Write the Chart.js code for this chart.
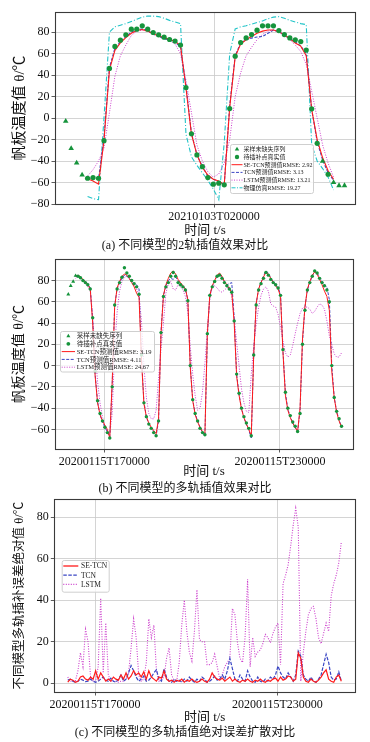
<!DOCTYPE html>
<html><head><meta charset="utf-8">
<script src="https://cdn.jsdelivr.net/npm/chart.js@4.4.0/dist/chart.umd.min.js"></script>
<style>
html,body{margin:0;padding:0;background:#fff;width:370px;height:742px;overflow:hidden;position:relative;}
.wrap{position:absolute;left:0;width:370px;}
canvas{display:block;}
.cap{position:absolute;left:0;width:370px;text-align:center;font-size:12px;font-family:'Liberation Serif','Noto Sans CJK SC',serif;color:#111;line-height:14px;white-space:nowrap;}
</style></head><body>
<div class="wrap" style="top:0;height:238px"><canvas id="ca" width="370" height="238"></canvas></div>
<div class="cap" style="top:238px">(a) 不同模型的2轨插值效果对比</div>
<div class="wrap" style="top:250px;height:229px"><canvas id="cb" width="370" height="229"></canvas></div>
<div class="cap" style="top:481px">(b) 不同模型的多轨插值效果对比</div>
<div class="wrap" style="top:490px;height:235px"><canvas id="cc" width="370" height="235"></canvas></div>
<div class="cap" style="top:725px">(c) 不同模型的多轨插值绝对误差扩散对比</div>
<script>
// ================= DATA =================
// ---- (a) 2-rail interpolation ----
const aTickPos = [27.13];
const aTickLabels = ['20210103T020000'];
const aYTicks = [-80, -60, -40, -20, 0, 20, 40, 60, 80];
const aTruth = [-2.8, -28.2, -41.8, -52.9, -56, -55.4, -56, -21, 46.3, 66.7, 72.6, 77.5, 82.8, 82.8, 85.9, 82.8, 79.7, 77.5, 75.4, 73.2, 71.7, 68, 28.4, -14.6, -34.3, -45.2, -55.4, -61.5, -60.6, -62.1, 8.9, 57.7, 70.4, 74.7, 77.8, 81.9, 85.9, 85.9, 85.9, 81.5, 77.8, 74.7, 72.9, 71.3, 63.3, 8.6, -23.5, -40.2, -52.3, -60, -62.8, -62.8];
const aSampledIdx = [0, 1, 2, 3, 47, 49, 50, 51];
const aLineStart = 4;
const aSETCN = [-56.5, -58.5, -61.5, -21, 45, 63, 70, 75, 79, 81.5, 82.5, 81, 78.5, 76.5, 75, 73, 71.5, 67.5, 28, -15, -34, -46, -53, -57, -58.5, -62, 10, 57, 69, 73, 76, 79, 81, 82, 82, 80.5, 77.5, 74, 70, 67, 58, 8, -20, -37, -49, -57];
const aTCN = [-56, -56, -57, -18, 47, 65, 71, 76, 80, 82.5, 83, 81.5, 78, 76, 74, 72.5, 71, 66, 30, -14, -34, -45, -54, -57, -59, -62, 12, 58, 70, 73, 74.5, 75.5, 76, 79, 82, 80.5, 77.5, 74, 71, 67, 60, 8, -22, -39, -51, -58];
const aLSTM = [-54, -48, -40, -28, 5, 39, 58, 68, 77, 81, 82, 81, 79, 77, 75, 72, 69, 60, 35, 5, -25, -40, -50, -55, -52, -42, -20, 20, 42, 58, 66, 73, 78, 81, 82, 80, 77, 73, 68, 62, 50, 25, 0, -25, -42, -55];
const aPhys = [-73, -75, -76, 0, 80, 85, 86.5, 88, 90, 92, 94, 95, 95, 94.5, 93, 91, 89.5, 88, -15, -36, -44, -51, -58, -66, -76, -23, 60, 83, 85, 86, 87.5, 89, 90.5, 92.5, 94, 94.5, 93, 91, 89.5, 88, 87, -25, -40, -47, -55, -67];

// ---- (b) multi-rail interpolation ----
const bTickPos = [14.75, 86.75];
const bTickLabels = ['20200115T170000', '20200115T230000'];
const bYTicks = [-60, -40, -20, 0, 20, 40, 60, 80];
const bTruth = [67, 75, 79, 84.5, 84, 82.5, 80, 78, 76, 72, 45, -5, -33, -45, -52, -58, -63, -68, -20, 57, 72, 78, 83, 92, 87, 84, 80, 77, 74, 67, 10, -35, -48, -55, -59, -63, -66, -52, 31, 65, 74, 78, 84, 87.5, 84, 78, 76, 74, 71, 61, 0, -32, -45, -52, -59, -63, -65, 30, 66, 74, 79, 84, 85, 82, 78, 75, 72, 69, 42, -8, -26, -40, -48, -54, -59, -66, 10, 57, 71, 77, 82, 87.5, 85, 81, 78, 76, 73, 66, 15, -25, -40, -47, -53, -57, -62, -45, 20, 52, 71, 78, 84, 89, 87, 82, 78, 75, 71, 60, 0, -30, -43, -50, -57];
const bSampledIdx = [0, 1, 2, 3];
const bLineStart = 3;
const bSETCN = [84, 85, 83.5, 81, 78.5, 76, 72, 40, -10, -35, -46, -52, -56, -60, -68, -15, 55, 73, 79, 84, 86, 85, 82, 78, 74, 68, 64, 5, -36, -48, -54, -58, -61, -64, -50, 30, 66, 76, 82, 87, 89, 86, 81, 78, 75, 72, 62, -2, -33, -46, -53, -58, -62, -64, 30, 66, 75, 80, 85, 87, 84, 79, 76, 72, 69, 40, -10, -28, -41, -49, -55, -60, -66, 10, 58, 72, 78, 83, 88, 86, 82, 78, 75, 72, 65, 12, -28, -42, -49, -54, -58, -62, -40, 25, 55, 72, 79, 85, 88, 86, 81, 76, 70, 65, 52, -5, -30, -44, -52, -58];
const bTCN = [84, 84.5, 83, 81, 79, 77, 73, 43, -8, -34, -46, -53, -58, -62, -67, -18, 56, 72, 78, 82, 85, 84, 82, 79, 77, 76, 72, 8, -34, -48, -55, -59, -62, -66, -52, 32, 66, 75, 80, 82, 81, 83, 80, 77, 75, 72, 62, 0, -32, -45, -52, -58, -63, -66, 28, 66, 74, 80, 84, 86, 83, 79, 76, 77, 78, 45, -8, -27, -40, -49, -55, -61, -68, 10, 58, 72, 78, 84, 89, 87, 82, 79, 76, 73, 67, 14, -26, -41, -48, -54, -58, -62, -42, 22, 55, 71, 78, 84, 89, 87, 83, 79, 76, 74, 62, 0, -30, -43, -51, -58];
const bLSTM = [82, 84, 83, 80, 77, 74, 70, 45, 15, -15, -35, -48, -57, -63, -64, -45, 15, 50, 70, 79, 83, 84, 82, 78, 75, 72, 66, 42, 0, -30, -45, -50, -50, -42, -12, 15, 40, 68, 77, 79, 72, 71, 76, 74, 71, 65, 50, 18, -8, -28, -42, -40, -25, 2, 35, 62, 74, 75, 73, 70, 69, 71, 73, 74, 65, 45, 22, 0, -22, -35, -43, -44, -8, 18, 38, 55, 66, 72, 74, 70, 58, 56, 55, 48, 36, 23, 12, 8, 10, 19, 30, 40, 49, 54, 55, 55, 53, 49, 51, 55, 58, 57, 53, 42, 28, 20, 11, 8, 8, 12];

// ---- (c) absolute error ----
const cTickPos = [14.75, 86.75];
const cTickLabels = ['20200115T170000', '20200115T230000'];
const cYTicks = [0, 20, 40, 60, 80];
const cStart = 4;
const cSETCN = [0.5, 2, 1.5, 0.5, 1, 3, 3.5, 2, 1.5, 3, 2, 6, 2, 5, 3, 1, 2, 1, 3, 2, 1.5, 4, 2, 5, 2, 3.5, 6, 4, 5, 3, 5.5, 2, 6, 3, 2, 1, 3, 2.5, 6, 2, 1, 1.5, 0.5, 1.5, 1, 2, 0.5, 1.5, 1, 2, 1, 0.5, 1, 2, 1, 0.5, 2, 5, 3, 2, 1.5, 2.5, 1, 2, 3, 1, 2, 1, 0.5, 1.5, 1, 2, 1, 0.5, 1.5, 1, 2, 1, 0.5, 1.5, 1, 2, 2.5, 1, 3, 1.5, 2, 3.5, 3, 1, 2, 14.7, 12, 3, 1, 0.5, 2, 1, 0.5, 1.5, 3, 5, 6.5, 2, 1, 0.5, 3, 4, 1];
const cTCN = [1.5, 2, 1, 0.5, 1, 2, 1.5, 0.8, 1, 2, 1, 0.5, 1, 2, 3, 1.5, 1, 2.5, 1, 0.5, 2, 4, 1, 2, 5, 8.5, 6, 3, 1, 2, 3.5, 1, 1.5, 3, 5, 6.5, 2, 1, 7, 3, 1, 0.5, 2, 1, 1.5, 0.5, 2, 1, 3, 1.5, 0.5, 2, 1, 3, 2, 0.5, 1, 2, 3.5, 1.5, 2, 4, 2, 6, 12, 7, 2, 1, 4, 2, 1, 6, 3, 1, 0.5, 3, 1, 0.5, 2, 1, 3, 2, 4, 8.3, 5, 3, 2, 5, 3, 1, 4, 15.5, 13, 4, 2, 1, 3, 1, 0.5, 2, 4, 9, 14, 10, 3, 1.5, 2, 5.5, 1];
const cLSTM = [3, 1, 1, 1, 6, 14.7, 8, 26, 20, 3, 1, 1, 8, 41, 5, 29, 4, 1, 1, 1, 0.5, 1, 1, 2, 5, 17, 31, 22, 4, 1, 2, 10, 31, 22, 28, 6, 1, 2, 3, 12, 17, 4, 1, 1, 10, 28, 40, 25, 15, 10.7, 25, 45, 21, 20, 20, 9, 9, 10, 14, 8, 2, 4, 8, 10, 12, 36, 33, 19.5, 12, 10, 22, 50, 8, 22, 13, 15, 16, 19, 23.5, 22, 19.5, 24, 27, 29, 9, 48, 52, 57, 66, 76, 84.3, 75, 1, 15, 25, 33, 36, 37, 31, 22, 19, 24, 29, 25, 42, 48, 52, 58, 68];

// ================= STYLE / HELPERS =================
const FF = "'Liberation Serif','Noto Sans CJK SC',serif";
const GREEN = '#16943c';
const RED = '#ff1a1a';
const BLUE = '#3a46c4';
const PINK = '#cc3fcc';
const CYAN = '#22c4c8';

function pts(arr, start) { return arr.map((v, k) => ({x: start + k, y: v})); }
function subset(arr, idx, keep) {
  return arr.map((v, k) => ({x: k, y: (idx.includes(k) === keep) ? v : null}));
}
function minusFmt(v) { return v < 0 ? '\u2212' + Math.abs(v) : String(v); }

const legends = {};

function drawLegend(ctx, L) {
  ctx.save();
  ctx.fillStyle = 'rgba(255,255,255,0.8)';
  ctx.strokeStyle = '#cfcfcf';
  ctx.lineWidth = 1;
  const r = 2, x = L.x + 0.5, y = L.y + 0.5, w = L.w, h = L.h;
  ctx.beginPath();
  ctx.moveTo(x + r, y); ctx.lineTo(x + w - r, y); ctx.quadraticCurveTo(x + w, y, x + w, y + r);
  ctx.lineTo(x + w, y + h - r); ctx.quadraticCurveTo(x + w, y + h, x + w - r, y + h);
  ctx.lineTo(x + r, y + h); ctx.quadraticCurveTo(x, y + h, x, y + h - r);
  ctx.lineTo(x, y + r); ctx.quadraticCurveTo(x, y, x + r, y); ctx.closePath();
  ctx.fill(); ctx.stroke();
  L.items.forEach((it, k) => {
    const cy = L.row0 + k * L.step;
    const cx = (L.sx0 + L.sx1) / 2;
    if (it.type === 'line') {
      ctx.setLineDash(it.dash || []);
      ctx.strokeStyle = it.color; ctx.lineWidth = it.width || 1;
      ctx.beginPath(); ctx.moveTo(L.sx0, cy); ctx.lineTo(L.sx1, cy); ctx.stroke();
      ctx.setLineDash([]);
    } else if (it.type === 'tri') {
      const s = it.r;
      ctx.fillStyle = it.color;
      ctx.beginPath();
      ctx.moveTo(cx, cy - s); ctx.lineTo(cx + s * 0.87, cy + s * 0.5); ctx.lineTo(cx - s * 0.87, cy + s * 0.5);
      ctx.closePath(); ctx.fill();
    } else {
      ctx.fillStyle = it.color;
      ctx.beginPath(); ctx.arc(cx, cy, it.r, 0, Math.PI * 2); ctx.fill();
    }
    ctx.fillStyle = '#222';
    ctx.font = L.font;
    ctx.textBaseline = 'middle';
    ctx.textAlign = 'left';
    ctx.fillText(it.text, L.tx, cy + 0.5);
  });
  ctx.restore();
}

const framePlugin = {
  id: 'frame',
  afterDraw(chart) {
    const a = chart.chartArea, ctx = chart.ctx;
    ctx.save();
    ctx.strokeStyle = '#3a3a3a';
    ctx.lineWidth = 1.1;
    ctx.strokeRect(Math.round(a.left) + 0.5, Math.round(a.top) + 0.5, Math.round(a.right - a.left), Math.round(a.bottom - a.top));
    ctx.restore();
    const L = legends[chart.canvas.id];
    if (L) drawLegend(ctx, L);
  }
};

function lineDs(data, color, dash, width) {
  return {data, borderColor: color, borderWidth: width, borderDash: dash, pointRadius: 0, fill: false, tension: 0, spanGaps: false};
}
function markDs(data, style, r) {
  return {data, showLine: false, pointStyle: style, pointRadius: r, pointBackgroundColor: GREEN, pointBorderColor: GREEN, pointBorderWidth: 0};
}

function makeChart(id, c) {
  return new Chart(document.getElementById(id), {
    type: 'line',
    data: {datasets: c.datasets},
    options: {
      responsive: false, animation: false, devicePixelRatio: 1,
      layout: {padding: c.pad},
      plugins: {legend: {display: false}, tooltip: {enabled: false}},
      elements: {point: {hitRadius: 0}},
      scales: {
        x: {
          type: 'linear', min: c.xmin, max: c.xmax,
          afterBuildTicks: s => { s.ticks = c.xTicks.map(v => ({value: v})); },
          afterFit: s => { s.height = c.xh; },
          ticks: {callback: v => { const k = c.xTicks.findIndex(t => Math.abs(t - v) < 1e-6); return k >= 0 ? c.xLabels[k] : ''; },
                  font: {family: FF, size: 12}, color: '#111', padding: 2, maxRotation: 0, autoSkip: false},
          grid: {color: '#c9c9c9', lineWidth: 0.8, tickLength: 3.5, tickColor: '#333', drawTicks: true},
          border: {display: false},
          title: {display: true, text: '时间 t/s', font: {family: FF, size: 13}, color: '#111', padding: {top: 0, bottom: 0}}
        },
        y: {
          type: 'linear', min: c.ymin, max: c.ymax,
          afterBuildTicks: s => { s.ticks = c.yTicks.map(v => ({value: v})); },
          afterFit: s => { s.width = c.yw; },
          ticks: {callback: v => minusFmt(v), font: {family: FF, size: 12}, color: '#111', padding: 2},
          grid: {color: '#c9c9c9', lineWidth: 0.8, tickLength: 3.5, tickColor: '#333', drawTicks: true},
          border: {display: false},
          title: {display: true, text: c.yTitle, font: {family: FF, size: c.yTitleSize}, color: '#111', padding: {top: c.yTitlePad, bottom: 0}}
        }
      }
    },
    plugins: [framePlugin]
  });
}

// ================= CHART (a) =================
legends.ca = {
  x: 230, y: 144, w: 83, h: 49, row0: 149.3, step: 7.7, sx0: 231.5, sx1: 242.5, tx: 243.5,
  font: "6px " + FF,
  items: [
    {type: 'tri', color: GREEN, r: 2.6, text: '采样未缺失序列'},
    {type: 'circ', color: GREEN, r: 2.2, text: '待插补点真实值'},
    {type: 'line', color: RED, width: 1, text: 'SE-TCN预测值RMSE: 2.92'},
    {type: 'line', color: BLUE, width: 1, dash: [3, 1.5], text: 'TCN预测值RMSE: 3.13'},
    {type: 'line', color: PINK, width: 1, dash: [1, 1.5], text: 'LSTM预测值RMSE: 13.21'},
    {type: 'line', color: CYAN, width: 1, dash: [4, 1.5, 1, 1.5], text: '物理仿真RMSE: 19.27'}
  ]
};
makeChart('ca', {
  pad: {left: 0, top: 12, right: 15, bottom: 0},
  xmin: -1.96, xmax: 52.92, xTicks: aTickPos, xLabels: aTickLabels, xh: 34,
  ymin: -80, ymax: 98.8, yTicks: aYTicks, yw: 55,
  yTitle: '帆板温度值 θ/℃', yTitleSize: 15, yTitlePad: 11,
  datasets: [
    markDs(subset(aTruth, aSampledIdx, true), 'triangle', 3.2),
    markDs(subset(aTruth, aSampledIdx, false), 'circle', 2.6),
    lineDs(pts(aSETCN, aLineStart), RED, [], 1.1),
    lineDs(pts(aTCN, aLineStart), BLUE, [3, 1.5], 1.1),
    lineDs(pts(aLSTM, aLineStart), PINK, [1, 1.5], 1),
    lineDs(pts(aPhys, aLineStart), CYAN, [5, 2, 1, 2], 1.1)
  ]
});

// ================= CHART (b) =================
legends.cb = {
  x: 60, y: 81, w: 94, h: 40.5, row0: 86, step: 7.8, sx0: 61.7, sx1: 75, tx: 76.7,
  font: "6.5px " + FF,
  items: [
    {type: 'tri', color: GREEN, r: 2.3, text: '采样未缺失序列'},
    {type: 'circ', color: GREEN, r: 1.9, text: '待插补点真实值'},
    {type: 'line', color: RED, width: 1, text: 'SE-TCN预测值RMSE: 3.19'},
    {type: 'line', color: BLUE, width: 1, dash: [3, 1.5], text: 'TCN预测值RMSE: 4.11'},
    {type: 'line', color: PINK, width: 1, dash: [1, 1.5], text: 'LSTM预测值RMSE: 24.67'}
  ]
};
makeChart('cb', {
  pad: {left: 0, top: 5, right: 17, bottom: 0},
  xmin: -5.45, xmax: 116.7, xTicks: bTickPos, xLabels: bTickLabels, xh: 30,
  ymin: -78.4, ymax: 100, yTicks: bYTicks, yw: 55,
  yTitle: '帆板温度值 θ/℃', yTitleSize: 14, yTitlePad: 11,
  datasets: [
    markDs(subset(bTruth, bSampledIdx, true), 'triangle', 2.3),
    markDs(subset(bTruth, bSampledIdx, false), 'circle', 1.7),
    lineDs(pts(bSETCN, bLineStart), RED, [], 1),
    lineDs(pts(bTCN, bLineStart), BLUE, [3, 1.5], 1),
    lineDs(pts(bLSTM, bLineStart), PINK, [1, 1.5], 1)
  ]
});

// ================= CHART (c) =================
legends.cc = {
  x: 61.7, y: 70, w: 47, h: 31.7, row0: 76, step: 9.2, sx0: 63.3, sx1: 78.3, tx: 81,
  font: "7.5px " + FF,
  items: [
    {type: 'line', color: RED, width: 1.3, text: 'SE-TCN'},
    {type: 'line', color: BLUE, width: 1.3, dash: [3.5, 1.5], text: 'TCN'},
    {type: 'line', color: PINK, width: 1.2, dash: [1, 1.5], text: 'LSTM'}
  ]
};
makeChart('cc', {
  pad: {left: 0, top: 9, right: 15, bottom: 0},
  xmin: -1.32, xmax: 117.4, xTicks: cTickPos, xLabels: cTickLabels, xh: 33,
  ymin: -4.2, ymax: 88.6, yTicks: cYTicks, yw: 54.3,
  yTitle: '不同模型多轨插补误差绝对值 θ/℃', yTitleSize: 12.5, yTitlePad: 12,
  datasets: [
    lineDs(pts(cSETCN, cStart), RED, [], 1.2),
    lineDs(pts(cTCN, cStart), BLUE, [3.5, 1.5], 1.2),
    lineDs(pts(cLSTM, cStart), PINK, [1, 1.5], 1.1)
  ]
});
</script>
</body></html>
